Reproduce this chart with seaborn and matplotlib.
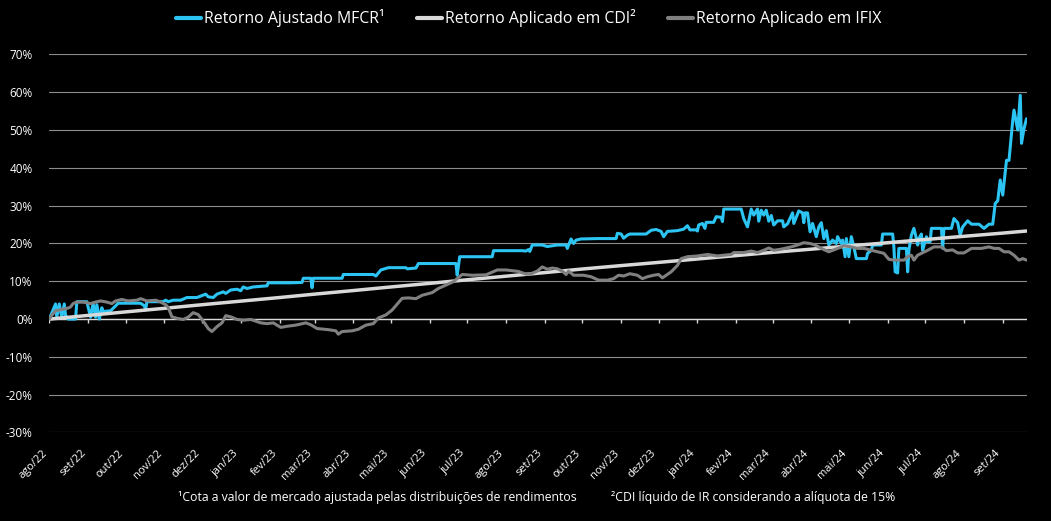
import numpy as np
import pandas as pd
import matplotlib
matplotlib.use("Agg")
import matplotlib.pyplot as plt
import seaborn as sns

# ---------------- data ----------------
START = "2022-08-01"   # day 0 of the series

mfcr_day = [0, 5, 6, 8, 10, 12, 13, 15, 21, 22, 30, 33, 35, 37, 38, 40, 42, 43, 49, 53,
            55, 73, 76, 77, 78, 91, 93, 95, 99, 105, 110, 118, 125, 127, 131, 134, 139, 141, 145, 150,
            153, 155, 158, 163, 174, 175, 193, 202, 203, 209, 210, 211, 234, 235, 259, 261, 265, 271, 285, 286,
            293, 295, 325, 326, 328, 354, 355, 378, 381, 383, 384, 386, 394, 398, 402, 406, 413, 414, 417, 419,
            421, 425, 438, 453, 454, 457, 459, 462, 464, 477, 481, 485, 489, 491, 494, 502, 507, 510, 512, 517,
            518, 519, 522, 524, 525, 531, 533, 537, 538, 539, 553, 555, 558, 561, 563, 566, 567, 569, 571, 573,
            575, 577, 579, 582, 586, 587, 590, 594, 595, 599, 602, 603, 604, 606, 608, 610, 613, 615, 617, 619,
            621, 623, 626, 629, 630, 633, 634, 636, 637, 639, 641, 643, 645, 653, 654, 657, 658, 665, 666, 674,
            675, 676, 678, 679, 685, 686, 687, 689, 691, 693, 694, 695, 697, 698, 701, 702, 704, 705, 713, 714,
            715, 721, 723, 726, 727, 728, 730, 734, 737, 743, 747, 751, 754, 756, 758, 760, 762, 765, 767, 770,
            771, 774, 776, 777, 779, 781]
mfcr_ret = [0.0, 4.0, 0.5, 4.0, 0.5, 4.0, 1.0, 0.0, 0.0, 4.6, 4.6, 0.5, 4.2, 0.5, 3.8, 0.0, 3.0, 2.0, 2.2, 3.5,
            4.2, 4.2, 3.5, 2.4, 4.6, 4.6, 5.0, 4.6, 5.0, 5.0, 5.7, 5.7, 6.6, 5.9, 5.7, 6.6, 7.2, 6.8, 7.7, 7.9,
            7.5, 8.5, 8.1, 8.5, 8.8, 9.6, 9.6, 9.7, 10.8, 10.8, 8.3, 10.8, 10.8, 11.8, 11.8, 11.4, 13.0, 13.6, 13.6, 13.3,
            13.5, 14.7, 14.7, 11.6, 16.5, 16.5, 18.1, 18.1, 18.0, 18.4, 17.9, 19.6, 19.6, 19.2, 19.4, 19.6, 19.6, 18.7, 21.2, 20.0,
            20.9, 21.2, 21.3, 21.3, 22.7, 22.5, 21.4, 22.2, 22.5, 22.5, 23.5, 23.7, 23.2, 21.8, 23.2, 23.4, 23.8, 24.7, 23.6, 23.6,
            23.3, 24.9, 25.3, 24.0, 25.6, 25.6, 27.1, 26.9, 25.8, 29.1, 29.1, 26.6, 24.4, 29.1, 27.5, 29.1, 25.9, 28.8, 27.5, 28.8,
            25.9, 27.4, 24.9, 26.0, 26.0, 24.4, 25.2, 28.1, 25.3, 28.6, 28.1, 25.5, 28.1, 28.1, 23.1, 25.3, 21.8, 24.4, 25.5, 21.3,
            23.4, 19.6, 20.9, 20.0, 21.8, 20.0, 20.9, 16.5, 21.3, 16.5, 21.8, 19.1, 16.0, 16.0, 17.4, 18.2, 19.6, 19.6, 22.5, 22.5,
            19.1, 12.5, 12.2, 18.7, 18.7, 12.5, 18.2, 22.2, 24.0, 21.3, 19.6, 21.3, 22.5, 18.2, 21.8, 20.5, 20.5, 24.0, 24.0, 18.7,
            24.0, 24.0, 26.6, 25.5, 23.8, 22.2, 24.4, 26.0, 25.1, 25.1, 24.0, 25.1, 25.1, 30.6, 31.3, 36.8, 32.8, 42.0, 42.0, 52.6,
            55.3, 50.0, 59.2, 46.5, 50.4, 53.0]

cdi_day = [0, 31, 61, 92, 122, 153, 184, 212, 243, 273, 304, 334, 365, 396, 426, 457, 487,
           518, 549, 578, 609, 639, 670, 700, 731, 762, 781]
cdi_ret = [0.0, 0.97, 1.9, 2.85, 3.8, 4.75, 5.7, 6.6, 7.55, 8.5, 9.45, 10.4, 11.35, 12.3, 13.25, 14.15, 15.0,
           15.9, 16.8, 17.65, 18.5, 19.35, 20.2, 21.05, 21.9, 22.75, 23.3]

ifix_day = [0, 2, 5, 9, 14, 17, 19, 22, 27, 33, 37, 41, 46, 50, 53, 58, 63, 70, 73, 78,
            85, 89, 93, 95, 98, 102, 107, 111, 115, 119, 123, 127, 130, 134, 138, 141, 145, 150, 155, 161,
            169, 174, 179, 185, 190, 197, 205, 209, 214, 223, 229, 231, 234, 242, 247, 253, 259, 263, 269, 274,
            282, 287, 293, 298, 306, 311, 317, 323, 330, 338, 349, 358, 365, 375, 381, 385, 390, 394, 398, 402,
            406, 410, 413, 415, 419, 427, 433, 439, 446, 451, 455, 459, 464, 470, 474, 478, 483, 487, 490, 494,
            497, 502, 505, 510, 518, 526, 534, 539, 545, 547, 555, 561, 566, 571, 575, 579, 585, 593, 598, 603,
            608, 612, 617, 623, 630, 635, 641, 646, 651, 657, 662, 667, 671, 675, 683, 686, 689, 691, 694, 697,
            702, 707, 713, 717, 722, 726, 731, 737, 745, 751, 755, 759, 763, 767, 771, 775, 778, 781]
ifix_ret = [0.0, 1.0, 2.2, 2.5, 2.8, 3.2, 4.1, 4.5, 4.5, 4.1, 4.5, 4.8, 4.5, 4.1, 4.8, 5.2, 4.8, 5.0, 5.4, 4.8,
            5.0, 4.5, 3.8, 3.1, 0.6, 0.2, -0.1, 0.5, 1.7, 1.2, -0.5, -2.5, -3.3, -2.0, -1.0, 0.9, 0.6, -0.1, -0.3, -0.1,
            -1.0, -1.2, -1.0, -2.2, -1.9, -1.6, -1.0, -1.5, -2.5, -2.8, -3.1, -4.0, -3.3, -3.1, -2.7, -1.6, -1.2, 0.3, 1.1, 2.4,
            5.5, 5.6, 5.4, 6.3, 7.0, 8.1, 9.0, 9.9, 11.8, 11.6, 11.7, 13.0, 13.0, 12.6, 11.9, 12.0, 12.7, 13.8, 13.2, 13.5,
            13.3, 12.7, 11.8, 12.7, 11.6, 11.6, 11.2, 10.3, 10.3, 10.7, 11.6, 11.4, 12.0, 11.6, 10.7, 11.2, 11.6, 11.8, 10.9, 11.8,
            12.5, 14.2, 16.0, 16.5, 16.7, 17.1, 16.7, 16.9, 17.1, 17.6, 17.6, 18.0, 17.6, 18.2, 18.8, 18.2, 18.5, 19.1, 19.6, 20.2,
            20.0, 19.6, 18.7, 17.8, 18.7, 19.4, 19.1, 18.7, 18.7, 18.2, 17.8, 17.4, 15.8, 15.6, 15.6, 16.5, 16.9, 15.6, 16.9, 17.4,
            18.2, 19.1, 19.1, 18.1, 18.3, 17.5, 17.5, 18.7, 18.7, 19.1, 18.7, 18.7, 17.8, 17.8, 16.9, 15.6, 16.0, 15.6]

month_labels = ["ago/22", "set/22", "out/22", "nov/22", "dez/22", "jan/23", "fev/23", "mar/23",
                "abr/23", "mai/23", "jun/23", "jul/23", "ago/23", "set/23", "out/23", "nov/23",
                "dez/23", "jan/24", "fev/24", "mar/24", "abr/24", "mai/24", "jun/24", "jul/24",
                "ago/24", "set/24"]
y_ticks = [-30, -20, -10, 0, 10, 20, 30, 40, 50, 60, 70]

series_names = ["Retorno Ajustado MFCR¹", "Retorno Aplicado em CDI²", "Retorno Aplicado em IFIX"]
series_colors = ["#2CC4F2", "#D9D9D9", "#808080"]
series_widths = [2.2, 2.5, 2.2]

footnote_1 = "¹Cota a valor de mercado ajustada pelas distribuições de rendimentos"
footnote_2 = "²CDI líquido de IR considerando a alíquota de 15%"

# ---------------- build & draw ----------------
sns.set_theme(style="dark")
plt.rcParams["font.family"] = ["Open Sans", "DejaVu Sans"]
plt.rcParams["axes.facecolor"] = "black"
plt.rcParams["figure.facecolor"] = "black"

start = pd.Timestamp(START)
frames = []
for name, days, vals in zip(series_names,
                            [mfcr_day, cdi_day, ifix_day],
                            [mfcr_ret, cdi_ret, ifix_ret]):
    frames.append(pd.DataFrame({"date": start + pd.to_timedelta(days, unit="D"),
                                "ret": vals, "serie": name}))
df = pd.concat(frames, ignore_index=True)

fig = plt.figure(figsize=(10.51, 5.21), dpi=100, facecolor="black")
ax = fig.add_axes([0.0469, 0.1699, 0.9298, 0.7255])
ax.set_facecolor("black")

handles = []
for name, color, lw in zip(series_names, series_colors, series_widths):
    sub = df[df["serie"] == name]
    sns.lineplot(data=sub, x="date", y="ret", color=color, linewidth=lw,
                 estimator=None, ax=ax, legend=False, zorder=3)
    handles.append(ax.get_lines()[-1])

month_dates = pd.date_range(start, periods=len(month_labels), freq="MS")

# horizontal gridlines
ax.set_ylim(-30, 70)
ax.set_yticks(y_ticks)
ax.set_yticklabels([f"{v}%" for v in y_ticks])
ax.grid(axis="y", color="#8C8C8C", linewidth=0.8)
ax.grid(axis="x", visible=False)
ax.set_axisbelow(True)

# category axis crossing at 0 with month tick marks
ax.axhline(0, color="#D9D9D9", linewidth=1.0, zorder=2)
ax.vlines(month_dates, -1.1, 0, color="#D9D9D9", linewidth=1.0, zorder=2)

ax.set_xlim(start, start + pd.Timedelta(days=cdi_day[-1]))
ax.set_xticks(month_dates)
ax.set_xticklabels(month_labels, rotation=45, ha="right")
ax.tick_params(axis="x", length=0, pad=11, colors="white", labelsize=8)
ax.tick_params(axis="y", length=0, pad=12, colors="white", labelsize=8.5)
ax.set_xlabel("")
ax.set_ylabel("")
for s in ax.spines.values():
    s.set_visible(False)

leg = fig.legend(handles, series_names, loc="center", bbox_to_anchor=(0.503, 0.965),
                 ncol=3, frameon=False, fontsize=11.4, handlelength=1.6,
                 handletextpad=0.2, columnspacing=2.0)
for t in leg.get_texts():
    t.set_color("white")
for h in leg.legend_handles:
    h.set_linewidth(3)

fig.text(178 / 1051, 1 - 498 / 521, footnote_1, ha="left", va="center",
         color="white", fontsize=8.8)
fig.text(611 / 1051, 1 - 498 / 521, footnote_2, ha="left", va="center",
         color="white", fontsize=8.8)

fig.savefig("out.png", dpi=100, facecolor="black")
